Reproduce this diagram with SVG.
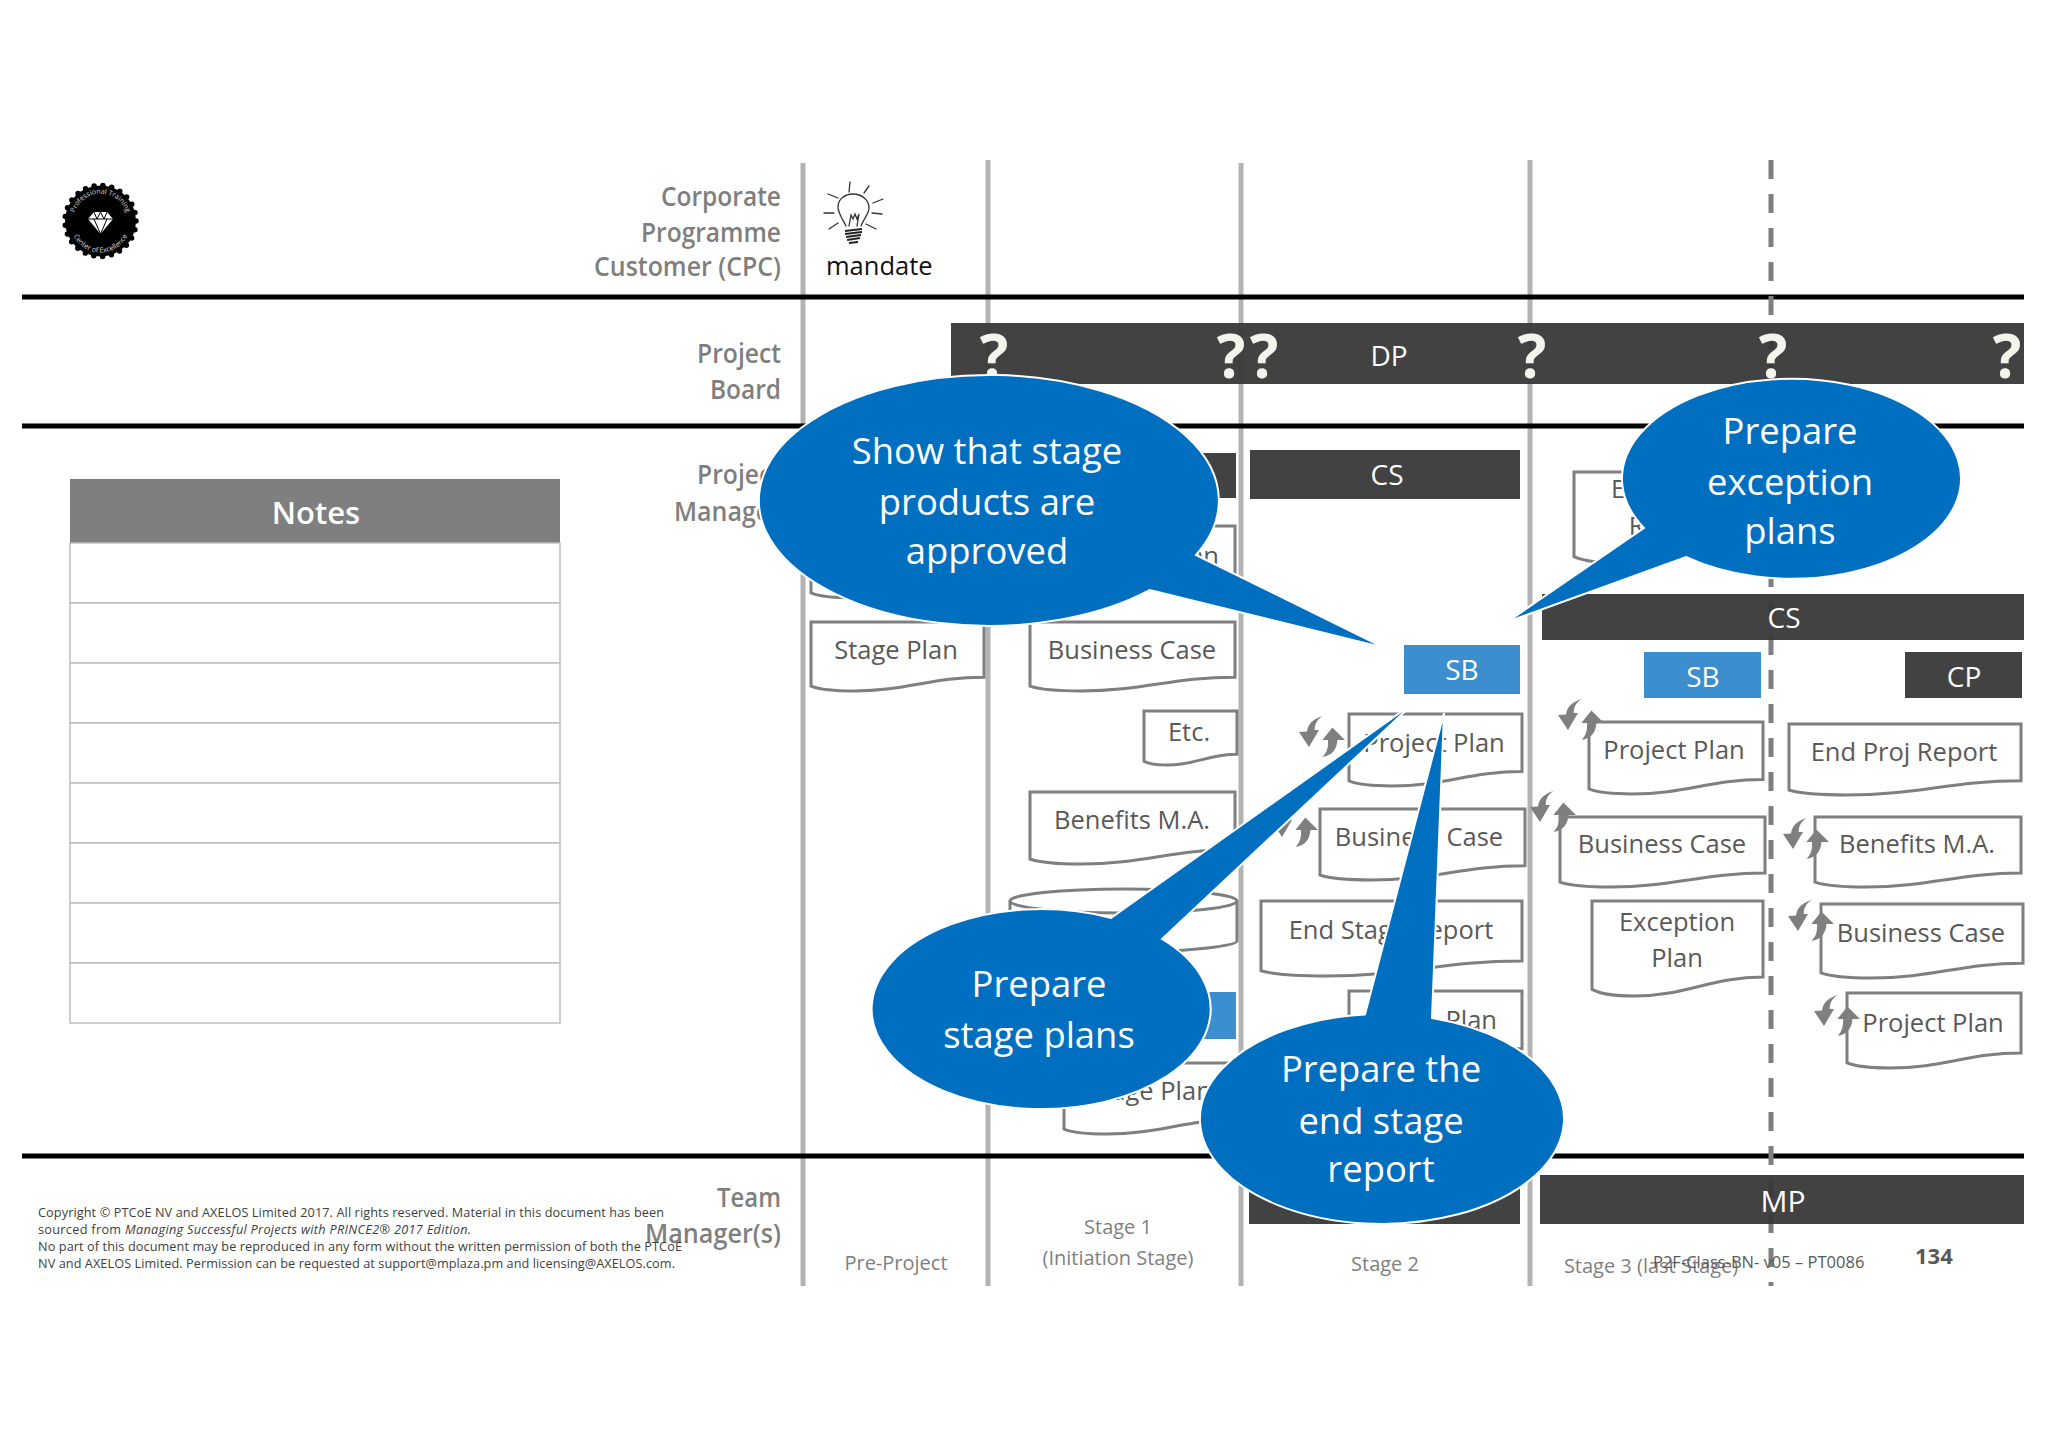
<svg xmlns="http://www.w3.org/2000/svg" width="2048" height="1448" viewBox="0 0 2048 1448">
<style>
text{font-family:"Open Sans","Liberation Sans",sans-serif}
.lab{font-size:27px;font-weight:600;fill:#7f7f7f;text-anchor:end}
.bar{fill:#383838;opacity:.95}
.sb{fill:#3c8ecf}
.bt{font-size:28px;fill:#fff;text-anchor:middle}
.q{font-size:60px;font-weight:700;fill:#f4f4ec;text-anchor:middle}
.d{font-size:25.500px;fill:#595959;text-anchor:middle}
.docp{fill:#fff;stroke:#7f7f7f;stroke-width:3;vector-effect:non-scaling-stroke}
.st{font-size:20px;fill:#7f7f7f;text-anchor:middle}
.call{fill:#006fc0;stroke:#fff;stroke-width:2}
.ct{font-size:36.400px;fill:#fff;text-anchor:middle}
.v{stroke:#b3b3b3;stroke-width:5;fill:none}
.h{stroke:#000;stroke-width:5}
.row{fill:#fff;stroke:#bfbfbf;stroke-width:1.500}
.c{font-size:12.700px;fill:#404040}
.ray{stroke:#333;stroke-width:1.300;fill:none;stroke-linecap:round}
</style>
<defs>
<path id="doc" class="docp" d="M0 0H1V.8C.7 .8 .55 1 .25 1C.15 1 .05 .98 0 .93Z"/>
<g id="cyc" fill="#7f7f7f">
<path d="M0 17L8 16.400C9 9 14 4 23.400 1C18 5 15.700 9 15.700 15L20 15L10 32Z"/>
<path d="M33.400 12.400L46 25L38.400 25C38 34 33 41 23.400 41.700C28 38 29.500 32 29 25L23.400 25Z"/>
</g>
<path id="arcT" d="M76 232A27 27 0 1 1 125 232"/>
<path id="arcB" d="M71 228A30 30 0 0 0 130 228"/>
</defs>
<rect width="2048" height="1448" fill="#fff"/>

<g id="lanes">
<path class="v" d="M803 163V1286M988 160V1286M1241 163V1286M1530 160V1286"/>
<path class="h" d="M22 297H2024M22 426H2024M22 1156H2024"/>
<path stroke="#7f7f7f" stroke-width="5" stroke-dasharray="19 15" fill="none" d="M1771 160V1286"/>
</g>

<g id="logo">
<circle cx="100.500" cy="221" r="35.500" fill="#000"/>
<circle cx="100.500" cy="221" r="35.500" fill="none" stroke="#000" stroke-width="5.500" stroke-linecap="round" stroke-dasharray="0 8.920"/>
<text font-size="7" fill="#ddd"><textPath href="#arcT" startOffset="50%" text-anchor="middle">Professional Training</textPath></text>
<text font-size="7" fill="#ddd"><textPath href="#arcB" startOffset="50%" text-anchor="middle">Center of Excellence</textPath></text>
<path fill="#fff" d="M94 212H107L113 219L100.500 234L88 219Z"/>
<path stroke="#000" stroke-width="1" fill="none" d="M88 219H113M94 219L100.500 234L107 219M94 212L97 219L100.500 212L104 219L107 212"/>
</g>

<g id="mandate">
<path class="ray" d="M846 226C842 218 838 213 838 207C838 199 845 194 853 194C862 194 869 200 869 208C869 214 864 218 861 226M849 226L851 215L853 219L855 214L857 219L859 214L857 226M850 182L849 192M869 186L864 193M883 199L873 203M882 214L872 213M876 229L866 224M824 213L834 213M829 229L838 223M828 194L838 198"/>
<path stroke="#222" stroke-width="2" fill="none" d="M845 231L862 229M845 234L862 232M846 237L861 235M847 240L860 238M849 243L858 242"/>
<text x="826" y="275" font-size="25.500" fill="#111">mandate</text>
</g>

<g id="labels">
<text class="lab" x="781" y="206" textLength="120" lengthAdjust="spacingAndGlyphs">Corporate</text>
<text class="lab" x="781" y="242" textLength="140" lengthAdjust="spacingAndGlyphs">Programme</text>
<text class="lab" x="781" y="276" textLength="187" lengthAdjust="spacingAndGlyphs">Customer (CPC)</text>
<text class="lab" x="781" y="363" textLength="84" lengthAdjust="spacingAndGlyphs">Project</text>
<text class="lab" x="781" y="399" textLength="71" lengthAdjust="spacingAndGlyphs">Board</text>
<text class="lab" x="781" y="484" textLength="84" lengthAdjust="spacingAndGlyphs">Project</text>
<text class="lab" x="781" y="521" textLength="107" lengthAdjust="spacingAndGlyphs">Manager</text>
<text class="lab" x="781" y="1207" textLength="64" lengthAdjust="spacingAndGlyphs">Team</text>
<text class="lab" x="781" y="1243" textLength="136" lengthAdjust="spacingAndGlyphs">Manager(s)</text>
</g>

<g id="notes">
<rect x="70" y="479" width="490" height="64" fill="#7f7f7f"/>
<text x="316" y="524" font-size="31" font-weight="600" fill="#fff" text-anchor="middle">Notes</text>
<rect class="row" x="70" y="543" width="490" height="60"/>
<rect class="row" x="70" y="603" width="490" height="60"/>
<rect class="row" x="70" y="663" width="490" height="60"/>
<rect class="row" x="70" y="723" width="490" height="60"/>
<rect class="row" x="70" y="783" width="490" height="60"/>
<rect class="row" x="70" y="843" width="490" height="60"/>
<rect class="row" x="70" y="903" width="490" height="60"/>
<rect class="row" x="70" y="963" width="490" height="60"/>
</g>

<g id="dp"><rect class="bar" x="951" y="323" width="1073" height="61"/>
<text class="bt" x="1389" y="366">DP</text>
<text class="q" x="994" y="378">?</text><text class="q" x="1231" y="378">?</text><text class="q" x="1264" y="378">?</text><text class="q" x="1532" y="378">?</text><text class="q" x="1773" y="378">?</text><text class="q" x="2007" y="378">?</text></g>
<g id="cs1"><rect class="bar" x="1000" y="453" width="236" height="45"/></g>
<g id="cs2"><rect class="bar" x="1250" y="450" width="270" height="49"/><text class="bt" x="1387" y="485">CS</text></g>
<g id="doc-exc-report"><use href="#doc" transform="translate(1574 472) scale(190 91)"/><text class="d" x="1669" y="498">Exception</text><text class="d" x="1669" y="535">Report</text></g>
<g id="cs3"><rect class="bar" x="1542" y="594" width="482" height="46"/><text class="bt" x="1784" y="628">CS</text></g>
<g id="sb1"><rect class="sb" x="1404" y="645" width="116" height="49"/><text class="bt" x="1462" y="680">SB</text></g>
<g id="sb2"><rect class="sb" x="1644" y="652" width="117" height="46"/><text class="bt" x="1703" y="687">SB</text></g>
<g id="cp"><rect class="bar" x="1905" y="652" width="117" height="46"/><text class="bt" x="1964" y="687">CP</text></g>
<g id="sb3"><rect class="sb" x="1120" y="992" width="116" height="47"/></g>
<g id="mp"><rect class="bar" x="1540" y="1175" width="484" height="49"/><text class="bt" x="1783" y="1212" style="font-size:30px">MP</text></g>
<g id="ms2"><rect class="bar" x="1249" y="1175" width="271" height="49"/></g>

<g id="doc-pre"><use href="#doc" transform="translate(811 526) scale(173 72)"/></g>
<g id="doc-pp1"><use href="#doc" transform="translate(1030 526) scale(205 69)"/><text class="d" x="1219" y="565" style="text-anchor:end">Plan</text></g>
<g id="doc-sp0"><use href="#doc" transform="translate(811 622) scale(173 69)"/><text class="d" x="896" y="659">Stage Plan</text></g>
<g id="doc-bc1"><use href="#doc" transform="translate(1030 622) scale(205 69)"/><text class="d" x="1132" y="659">Business Case</text></g>
<g id="doc-etc"><use href="#doc" transform="translate(1144 711) scale(93 54)"/><text class="d" x="1189" y="741">Etc.</text></g>
<g id="doc-ben1"><use href="#doc" transform="translate(1030 792) scale(205 72)"/><text class="d" x="1132" y="829">Benefits M.A.</text></g>
<g id="cylinder"><path fill="#fff" stroke="#7f7f7f" stroke-width="3" d="M1010 901A113.500 12 0 0 1 1237 901V941C1237 949 1130 954 1100 954S1010 949 1010 941Z"/><path fill="none" stroke="#7f7f7f" stroke-width="3" d="M1010 901A113.500 12 0 0 0 1237 901"/></g>
<g id="doc-sp1"><use href="#doc" transform="translate(1064 1063) scale(172 71)"/><text class="d" x="1150" y="1100">Stage Plan</text></g>
<g id="doc-pp2"><use href="#doc" transform="translate(1349 714) scale(173 72)"/><text class="d" x="1434" y="752">Project Plan</text></g>
<g id="doc-bc2"><use href="#doc" transform="translate(1320 809) scale(205 71)"/><text class="d" x="1419" y="846">Business Case</text></g>
<g id="doc-esr"><use href="#doc" transform="translate(1261 901) scale(261 75)"/><text class="d" x="1391" y="939">End Stage Report</text></g>
<g id="doc-plan"><use href="#doc" transform="translate(1349 991) scale(173 72)"/><text class="d" x="1497" y="1029" style="text-anchor:end">Plan</text></g>
<g id="doc-pp3"><use href="#doc" transform="translate(1589 722) scale(174 72)"/><text class="d" x="1674" y="759">Project Plan</text></g>
<g id="doc-bc3"><use href="#doc" transform="translate(1560 817) scale(205 70)"/><text class="d" x="1662" y="853">Business Case</text></g>
<g id="doc-exc"><use href="#doc" transform="translate(1592 901) scale(171 95)"/><text class="d" x="1677" y="931">Exception</text><text class="d" x="1677" y="967">Plan</text></g>
<g id="doc-epr"><use href="#doc" transform="translate(1789 724) scale(232 71)"/><text class="d" x="1904" y="761">End Proj Report</text></g>
<g id="doc-ben2"><use href="#doc" transform="translate(1815 817) scale(206 70)"/><text class="d" x="1917" y="853">Benefits M.A.</text></g>
<g id="doc-bc4"><use href="#doc" transform="translate(1821 904) scale(202 74)"/><text class="d" x="1921" y="942">Business Case</text></g>
<g id="doc-pp4"><use href="#doc" transform="translate(1847 993) scale(174 75)"/><text class="d" x="1933" y="1032">Project Plan</text></g>

<g id="cycles">
<use href="#cyc" x="1299" y="715"/>
<use href="#cyc" x="1272" y="805"/>
<use href="#cyc" x="1558" y="698"/>
<use href="#cyc" x="1530" y="790"/>
<use href="#cyc" x="1783" y="817"/>
<use href="#cyc" x="1788" y="899"/>
<use href="#cyc" x="1814" y="994"/>
</g>

<g id="stages">
<text class="st" x="896" y="1270">Pre-Project</text>
<text class="st" x="1118" y="1234">Stage 1</text>
<text class="st" x="1118" y="1265">(Initiation Stage)</text>
<text class="st" x="1385" y="1271">Stage 2</text>
<text class="st" x="1651" y="1273">Stage 3 (last Stage)</text>
</g>

<g id="footer">
<text x="1653" y="1268" font-size="16.500" fill="#595959">P2F-Class-BN- v05 – PT0086</text>
<text x="1915" y="1264" font-size="22" font-weight="700" fill="#595959">134</text>
<text class="c" x="38" y="1217" textLength="626">Copyright © PTCoE NV and AXELOS Limited 2017. All rights reserved. Material in this document has been</text>
<text class="c" x="38" y="1234" textLength="433">sourced from <tspan font-style="italic">Managing Successful Projects with PRINCE2® 2017 Edition.</tspan></text>
<text class="c" x="38" y="1251" textLength="644">No part of this document may be reproduced in any form without the written permission of both the PTCoE</text>
<text class="c" x="38" y="1268" textLength="637">NV and AXELOS Limited. Permission can be requested at support@mplaza.pm and licensing@AXELOS.com.</text>
</g>

<g id="callouts">
<g id="call-approved"><path class="call" d="M1196 555L1385 648L1150 590A230 125.500 0 1 1 1196 555Z"/>
<text class="ct" x="987" y="464">Show that stage</text><text class="ct" x="987" y="515">products are</text><text class="ct" x="987" y="564">approved</text></g>
<g id="call-exception"><path class="call" d="M1644 528L1507 622L1686 557A169.500 100 0 1 0 1644 528Z"/>
<text class="ct" x="1790" y="444">Prepare</text><text class="ct" x="1790" y="495">exception</text><text class="ct" x="1790" y="544">plans</text></g>
<g id="call-stage"><path class="call" d="M1111 918L1415 702L1162 939A169.500 100 0 1 1 1111 918Z"/>
<text class="ct" x="1039" y="997">Prepare</text><text class="ct" x="1039" y="1048">stage plans</text></g>
<g id="call-end"><path class="call" d="M1365 1014.400L1444 713L1432 1018A182 105 0 1 1 1365 1014.400Z"/>
<text class="ct" x="1381" y="1082">Prepare the</text><text class="ct" x="1381" y="1134">end stage</text><text class="ct" x="1381" y="1182">report</text></g>
</g>
</svg>
